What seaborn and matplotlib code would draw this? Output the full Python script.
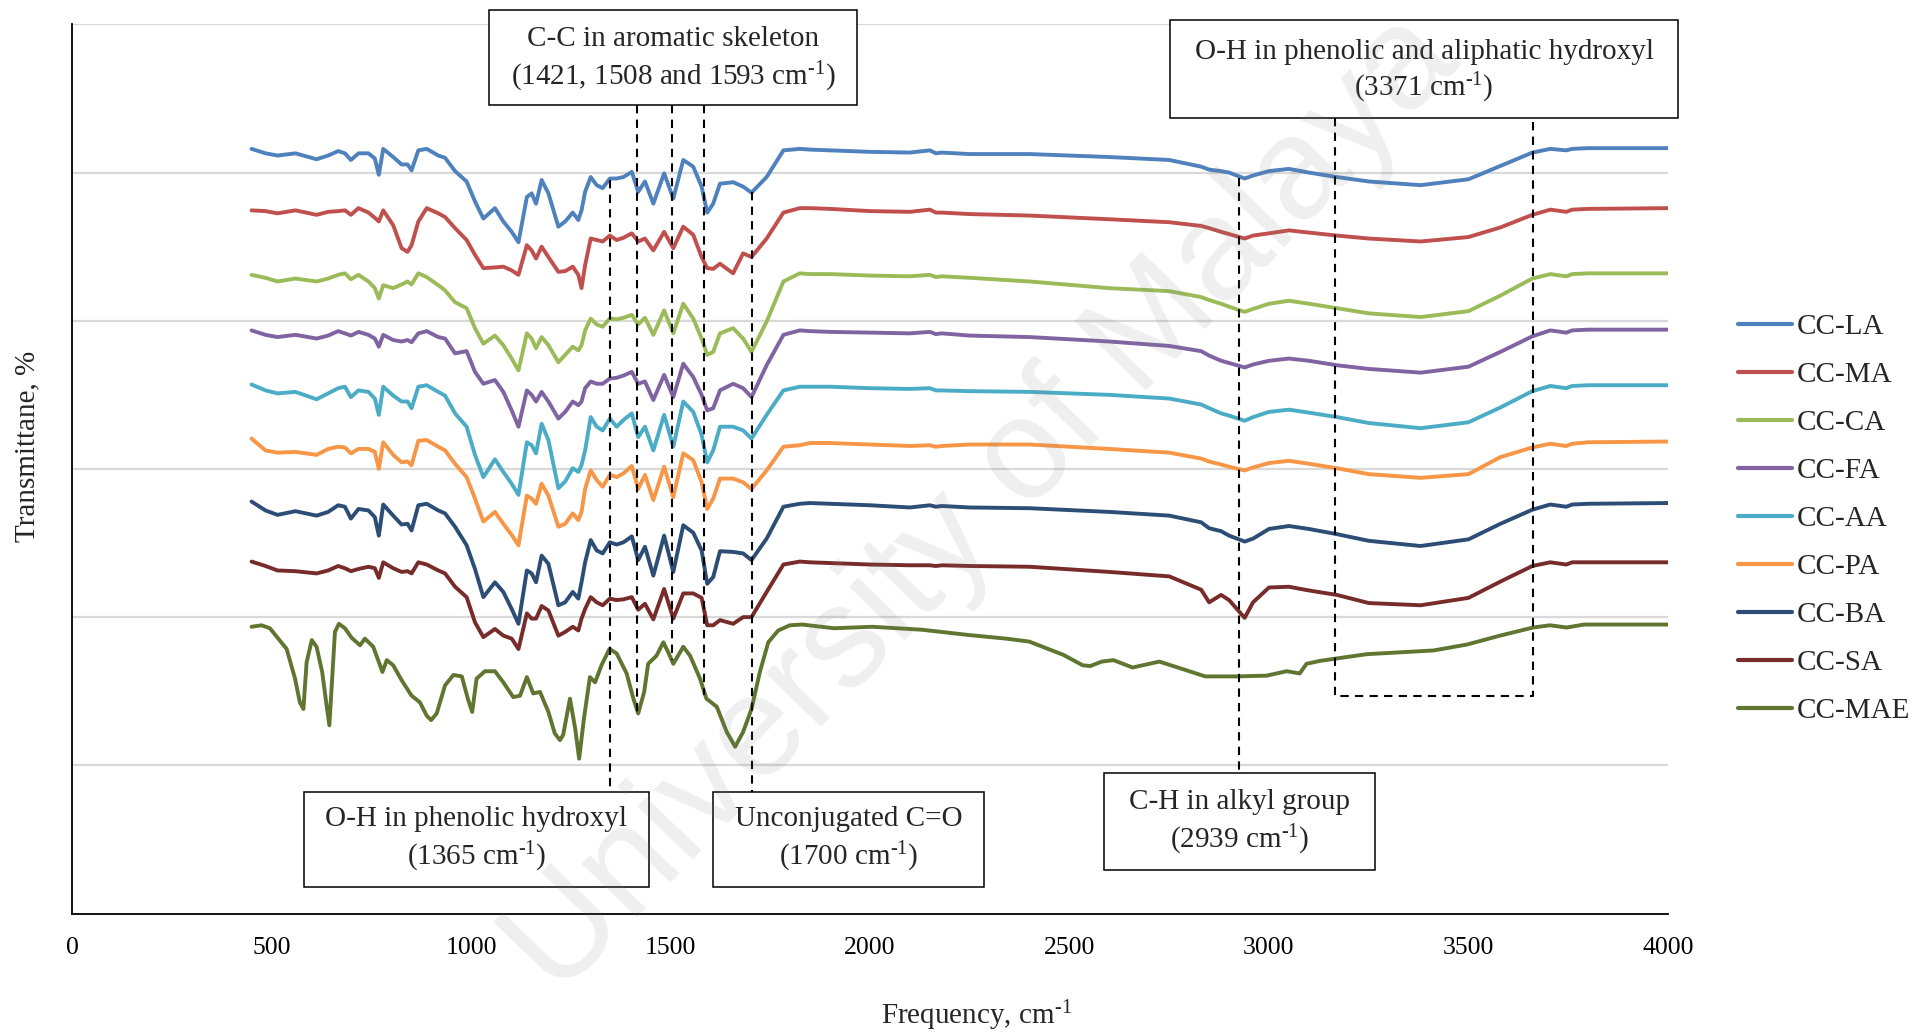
import seaborn as sns
import matplotlib.pyplot as plt
from matplotlib.patches import Rectangle

# shared wavenumber grid (cm-1) for the eight acid-modified samples
wn = [450, 485, 515, 560, 613, 642, 667, 684, 699, 718,
      743, 759, 769, 780, 805, 826, 841, 851, 868, 889,
      918, 935, 960, 989, 1010, 1031, 1060, 1081, 1102, 1119,
      1140, 1152, 1163, 1177, 1194, 1219, 1236, 1255, 1269, 1277,
      1286, 1300, 1315, 1330, 1348, 1365, 1382, 1403, 1419, 1436,
      1457, 1484, 1507, 1532, 1557, 1578, 1592, 1607, 1624, 1657,
      1682, 1703, 1741, 1783, 1824,
      1850, 1900, 2000, 2100, 2150, 2165, 2180, 2250, 2400, 2600,
      2750, 2830, 2850, 2880, 2900, 2939, 2960, 3000, 3050, 3100,
      3170, 3250, 3380, 3500, 3580, 3660, 3705, 3745, 3760, 3800,
      4000]

cc_la = [103.2, 102.6, 102.3, 102.6, 101.8, 102.3, 102.9, 102.6, 101.7, 102.6,
         102.6, 101.9, 99.7, 103.2, 102.1, 101.1, 101.1, 100.3, 103.0, 103.2,
         102.3, 102.0, 100.2, 98.8, 96.1, 93.8, 95.2, 93.4, 92.0, 90.6,
         96.7, 97.2, 95.8, 99.0, 97.2, 92.7, 93.4, 94.6, 93.6, 94.9,
         97.4, 99.4, 98.3, 97.9, 99.2, 99.2, 99.4, 100.1, 97.4, 98.8,
         95.8, 99.9, 96.5, 101.7, 100.8, 98.1, 94.6, 95.8, 98.5, 98.7,
         98.1, 97.3, 99.4, 103.0, 103.2,
         103.1, 103.0, 102.8, 102.7, 103.0, 102.6, 102.7, 102.5, 102.5, 102.1,
         101.7, 100.8, 100.4, 100.2, 100.0, 99.2, 99.6, 100.2, 100.5, 100.0,
         99.4, 98.8, 98.3, 99.1, 100.9, 102.7, 103.2, 103.0, 103.2, 103.3,
         103.3]

cc_ma = [94.9, 94.8, 94.5, 94.9, 94.3, 94.7, 94.8, 94.9, 94.3, 95.2,
         94.6, 93.9, 93.4, 94.9, 92.9, 89.8, 89.3, 90.2, 93.4, 95.2,
         94.5, 94.0, 92.5, 90.9, 88.9, 87.1, 87.2, 87.3, 86.8, 86.2,
         90.2, 89.5, 88.4, 90.0, 88.6, 86.6, 86.7, 87.3, 86.2, 84.4,
         87.5, 91.1, 90.9, 90.7, 91.5, 90.9, 91.2, 91.8, 90.7, 91.1,
         89.5, 92.0, 89.8, 92.7, 91.6, 88.6, 87.1, 87.0, 87.7, 86.4,
         89.1, 88.6, 91.1, 94.6, 95.2,
         95.2, 95.1, 94.8, 94.7, 95.0, 94.6, 94.6, 94.4, 94.2, 93.7,
         93.3, 92.8, 92.5, 92.0, 91.7, 91.1, 91.5, 91.8, 92.2, 91.9,
         91.5, 91.1, 90.7, 91.3, 92.6, 94.3, 95.0, 94.7, 95.0, 95.1,
         95.2]

cc_ca = [86.2, 85.8, 85.3, 85.7, 85.3, 85.7, 86.2, 86.4, 85.6, 86.2,
         85.3, 84.4, 83.0, 84.8, 84.4, 84.9, 85.3, 84.9, 86.4, 85.9,
         84.8, 84.1, 82.5, 81.7, 79.0, 76.9, 78.0, 76.7, 74.9, 73.3,
         78.3, 77.6, 76.3, 77.8, 76.7, 74.4, 75.4, 76.5, 76.0, 76.7,
         78.7, 80.3, 79.5, 79.2, 80.3, 80.2, 80.4, 80.8, 79.5, 80.4,
         78.1, 81.4, 78.3, 82.3, 80.3, 77.6, 75.4, 75.8, 78.3, 79.0,
         77.6, 75.8, 79.9, 85.3, 86.4,
         86.3, 86.3, 86.1, 86.0, 86.2, 85.9, 86.0, 85.8, 85.3, 84.4,
         84.0, 83.2, 82.8, 82.3, 81.9, 81.2, 81.6, 82.3, 82.7, 82.3,
         81.7, 81.0, 80.5, 81.3, 83.4, 85.7, 86.3, 86.0, 86.3, 86.4,
         86.4]

cc_fa = [78.7, 78.1, 77.8, 78.1, 77.6, 78.0, 78.6, 78.3, 78.0, 78.5,
         78.1, 77.6, 76.5, 78.1, 77.4, 77.2, 77.4, 77.1, 78.3, 78.6,
         77.8, 77.6, 75.6, 75.9, 73.1, 71.5, 72.0, 70.4, 67.9, 65.7,
         70.6, 70.0, 69.1, 70.4, 69.1, 66.8, 67.7, 69.1, 68.6, 69.1,
         70.9, 71.8, 71.5, 71.5, 72.2, 72.3, 72.6, 73.1, 71.5, 71.8,
         69.3, 72.7, 69.7, 74.2, 72.4, 70.0, 67.9, 68.2, 70.6, 71.5,
         70.9, 69.7, 74.0, 78.1, 78.7,
         78.6, 78.5, 78.4, 78.3, 78.5, 78.2, 78.3, 78.0, 77.8, 77.2,
         76.6, 75.9, 75.3, 74.6, 74.3, 73.7, 74.1, 74.6, 74.9, 74.6,
         74.0, 73.5, 73.0, 73.8, 75.8, 77.9, 78.7, 78.4, 78.7, 78.8,
         78.8]

cc_aa = [71.4, 70.6, 70.2, 70.4, 69.4, 70.2, 70.9, 71.1, 69.7, 70.6,
         70.4, 69.5, 67.3, 71.1, 69.9, 69.1, 69.1, 68.2, 71.1, 71.3,
         70.4, 69.9, 67.5, 65.7, 61.9, 58.9, 61.3, 59.6, 58.0, 56.5,
         63.6, 63.2, 62.1, 66.1, 63.9, 57.4, 58.3, 60.1, 59.6, 60.5,
         62.5, 67.0, 65.7, 65.2, 66.8, 65.7, 66.6, 67.5, 64.3, 65.7,
         62.5, 67.3, 63.0, 69.1, 67.7, 64.6, 60.9, 62.5, 65.7, 65.7,
         65.2, 64.1, 67.3, 70.6, 71.1,
         71.1, 71.1, 70.9, 70.8, 70.9, 70.6, 70.6, 70.5, 70.4, 70.0,
         69.5, 68.7, 68.2, 67.5, 67.2, 66.5, 67.0, 67.7, 68.0, 67.6,
         67.0, 66.2, 65.5, 66.3, 68.3, 70.5, 71.2, 70.9, 71.2, 71.3,
         71.3]

cc_pa = [64.1, 62.5, 62.2, 62.3, 61.9, 62.7, 63.0, 62.9, 62.1, 62.7,
         62.7, 62.3, 60.0, 63.6, 61.9, 60.9, 61.0, 60.5, 63.8, 63.9,
         63.0, 62.5, 60.7, 58.9, 56.0, 52.9, 54.2, 52.6, 51.1, 49.7,
         56.4, 56.0, 55.3, 58.0, 56.4, 52.2, 52.6, 54.0, 53.1, 54.2,
         57.3, 59.8, 58.5, 57.6, 59.2, 58.9, 59.4, 60.4, 57.3, 59.2,
         55.8, 60.3, 56.2, 62.1, 61.2, 58.2, 54.6, 56.0, 58.7, 58.7,
         58.2, 57.3, 59.8, 63.0, 63.2,
         63.5, 63.5, 63.3, 63.1, 63.2, 63.0, 63.1, 63.3, 63.3, 62.7,
         62.2, 61.4, 61.0, 60.6, 60.3, 59.8, 60.2, 60.8, 61.1, 60.7,
         60.1, 59.3, 58.8, 59.3, 61.6, 62.9, 63.4, 63.1, 63.4, 63.6,
         63.7]

cc_ba = [55.6, 54.4, 53.8, 54.3, 53.7, 54.2, 55.1, 54.9, 53.3, 54.6,
         54.4, 53.5, 51.0, 55.2, 53.7, 52.5, 52.6, 51.7, 55.1, 55.3,
         54.4, 54.0, 52.2, 49.7, 46.5, 42.7, 44.7, 43.4, 41.1, 39.1,
         46.3, 45.9, 44.7, 48.3, 47.2, 41.6, 42.0, 43.4, 42.5, 44.7,
         47.4, 50.4, 49.0, 48.6, 50.1, 49.8, 50.1, 50.9, 47.7, 49.5,
         45.6, 51.0, 46.1, 52.4, 51.4, 49.0, 44.5, 45.4, 48.9, 48.8,
         48.6, 47.7, 50.6, 54.9, 55.3,
         55.4, 55.3, 55.1, 54.8, 55.1, 54.9, 55.0, 54.8, 54.7, 54.2,
         53.7, 52.8, 52.0, 51.6, 51.0, 50.2, 50.6, 51.9, 52.3, 51.9,
         51.2, 50.3, 49.6, 50.5, 52.6, 54.5, 55.2, 54.9, 55.2, 55.3,
         55.4]

cc_sa = [47.5, 46.9, 46.3, 46.2, 45.9, 46.3, 46.9, 46.6, 46.2, 46.5,
         46.8, 46.6, 45.3, 47.4, 46.6, 46.1, 46.2, 45.9, 47.4, 47.1,
         46.3, 45.9, 44.1, 42.7, 39.3, 37.3, 38.4, 37.5, 37.1, 35.7,
         40.5, 39.8, 39.8, 41.5, 40.9, 37.5, 38.0, 38.7, 38.2, 39.8,
         41.1, 42.7, 42.0, 41.6, 42.5, 42.3, 42.4, 42.7, 41.0, 41.8,
         39.7, 43.8, 39.8, 43.2, 43.2, 42.6, 38.9, 38.9, 39.6, 39.1,
         40.0, 40.0, 43.4, 47.1, 47.5,
         47.4, 47.3, 47.1, 47.0, 47.0, 46.9, 47.0, 46.9, 46.8, 46.1,
         45.5, 43.7, 42.0, 43.0, 42.3, 39.9, 42.0, 44.0, 44.1, 43.6,
         43.0, 41.9, 41.6, 42.6, 44.8, 46.9, 47.4, 47.1, 47.4, 47.4,
         47.4]

# the unmodified extract has its own peak positions
wn_mae = [450, 475, 496, 517, 538, 559, 571, 580, 588, 601,
          613, 627, 638, 645, 652, 659, 669, 684, 701, 722,
          734, 755, 772, 778, 789, 805, 826, 851, 872, 889,
          900, 914, 935, 956, 977, 992, 1003, 1014, 1035, 1060,
          1081, 1106, 1123, 1140, 1156, 1173, 1194, 1210, 1223, 1231,
          1248, 1261, 1271, 1283, 1298, 1311, 1327, 1347, 1365, 1390,
          1407, 1419, 1434, 1444, 1465, 1482, 1494, 1507, 1532, 1549,
          1574, 1590, 1616, 1641, 1662, 1682, 1703, 1724, 1745, 1770,
          1799, 1830, 1910, 2006, 2130, 2245, 2341, 2399, 2485, 2533,
          2552, 2581, 2610, 2658, 2725, 2783, 2840, 2917, 2994, 3044,
          3077, 3094, 3128, 3245, 3412, 3496, 3579, 3662, 3704, 3746,
          3790, 4000]
cc_mae = [38.7, 38.9, 38.5, 37.1, 35.7, 31.7, 28.5, 27.6, 33.9, 36.9,
          36.0, 32.6, 28.1, 25.4, 31.7, 38.0, 39.1, 38.5, 37.2, 36.2,
          37.1, 36.0, 33.5, 32.6, 34.2, 33.5, 31.5, 29.4, 28.5, 26.7,
          26.1, 27.0, 30.8, 32.2, 32.0, 29.0, 27.2, 31.7, 32.7, 32.7,
          31.2, 29.2, 29.4, 31.9, 29.7, 29.9, 27.2, 24.3, 23.4, 24.1,
          29.0, 25.0, 20.9, 26.3, 31.9, 31.2, 33.5, 35.7, 35.1, 32.4,
          29.0, 27.0, 29.9, 33.7, 34.8, 36.6, 35.3, 33.7, 36.0, 34.8,
          31.7, 29.0, 27.9, 24.5, 22.5, 24.5, 27.6, 32.6, 36.6, 38.2,
          38.9, 39.0, 38.5, 38.7, 38.3, 37.6, 37.1, 36.7, 34.9, 33.5,
          33.4, 34.0, 34.2, 33.2, 34.0, 33.0, 32.0, 32.0, 32.1, 32.7,
          32.4, 33.7, 34.1, 35.0, 35.5, 36.3, 37.5, 38.6, 38.9, 38.6,
          39.0, 39.0]

names = ['CC-LA', 'CC-MA', 'CC-CA', 'CC-FA', 'CC-AA', 'CC-PA', 'CC-BA', 'CC-SA', 'CC-MAE']
colors = ['#4F81BD', '#C0504D', '#9BBB59', '#8064A2', '#4BACC6',
          '#F79646', '#2C4D75', '#772C2A', '#5F7530']
series = [(wn, cc_la), (wn, cc_ma), (wn, cc_ca), (wn, cc_fa), (wn, cc_aa),
          (wn, cc_pa), (wn, cc_ba), (wn, cc_sa), (wn_mae, cc_mae)]

sns.set_theme(style='white')
plt.rcParams['font.family'] = ['Liberation Serif', 'DejaVu Serif']
plt.rcParams['mathtext.default'] = 'regular'

W, H = 1915, 1036
fig = plt.figure(figsize=(W / 100, H / 100), dpi=100)
ax = fig.add_axes([72 / W, 1 - 913.5 / H, (1668 - 72) / W, (913.5 - 24.4) / H])

for (x, y), name, c in zip(series, names, colors):
    sns.lineplot(x=x, y=y, color=c, lw=2.8, label=name, ax=ax,
                 sort=False, estimator=None, zorder=3)

ax.set_xlim(0, 4000)
ax.set_ylim(0, 120)
ax.set_xticks(range(0, 4001, 500))
ax.set_yticks(range(20, 121, 20))
ax.set_yticklabels([])
ax.tick_params(axis='x', length=0, pad=17, labelsize=18.5, colors='black')
ax.tick_params(axis='y', length=0)
ax.yaxis.grid(True, color='#d9d9d9', lw=1.6, zorder=0)
ax.xaxis.grid(False)
ax.set_axisbelow(True)
for s in ['top', 'right']:
    ax.spines[s].set_visible(False)
for s in ['left', 'bottom']:
    ax.spines[s].set_color('black')
    ax.spines[s].set_linewidth(1.3)
ax.set_xlabel('')
ax.set_ylabel('')

# dashed guide lines
dash = dict(color='black', lw=1.5, linestyle=(0, (4, 3)), zorder=5, clip_on=False)
ax.plot([1348, 1348], [99.0, 16.4], **dash)
ax.plot([1417, 1417], [109.1, 27.2], **dash)
ax.plot([1504, 1504], [109.1, 34.2], **dash)
ax.plot([1585, 1585], [109.1, 29.5], **dash)
ax.plot([1705, 1705], [97.4, 16.4], **dash)
ax.plot([2926, 2926], [99.3, 18.9], **dash)
ax.plot([3166, 3166, 3662, 3662], [107.4, 29.3, 29.3, 107.4], **dash)

# annotation boxes: (x0, x1, y0, y1, line1, line2, line1 y, line2 y)
sup = r'$^{\mathregular{‐1}}$'
boxes = [
    (1044, 1968, 109.1, 122.0, 'C-C in aromatic skeleton',
     '(1421, 1508 and 1593 cm' + sup + ')', 118.0, 112.9),
    (2752, 4025, 107.4, 120.6, 'O-H in phenolic and aliphatic hydroxyl',
     '(3371 cm' + sup + ')', 116.3, 111.4),
    (581, 1445, 3.6, 16.4, 'O-H in phenolic hydroxyl',
     '(1365 cm' + sup + ')', 12.7, 7.6),
    (1606, 2286, 3.6, 16.4, 'Unconjugated C=O',
     '(1700 cm' + sup + ')', 12.7, 7.6),
    (2586, 3266, 5.9, 18.9, 'C-H in alkyl group',
     '(2939 cm' + sup + ')', 15.0, 9.9),
]
for x0, x1, y0, y1, t1, t2, ty1, ty2 in boxes:
    ax.add_patch(Rectangle((x0, y0), x1 - x0, y1 - y0, facecolor='white',
                           edgecolor='black', lw=1.1, zorder=6, clip_on=False))
    xc = (x0 + x1) / 2
    ax.text(xc, ty1, t1, ha='center', va='center', fontsize=21, zorder=7, clip_on=False)
    ax.text(xc, ty2, t2, ha='center', va='center', fontsize=21, zorder=7, clip_on=False)

# watermark laid over the whole chart, very faint
ax.text(983 / W, 1 - 505 / H, 'University of Malaya', transform=fig.transFigure,
        family='Liberation Sans', fontsize=104, color='#808080', alpha=0.13,
        rotation=46, ha='center', va='center', zorder=8)

ax.legend(loc='upper left', bbox_to_anchor=(1738 / W, 1 - 314 / H),
          bbox_transform=fig.transFigure, frameon=False, fontsize=21,
          handlelength=1.85, handletextpad=0.15, labelspacing=0.74,
          borderpad=0, borderaxespad=0)
for line in ax.get_legend().get_lines():
    line.set_linewidth(3.0)

fig.text(27 / W, 1 - 446 / H, 'Transmittane, %', rotation=90, ha='center',
         va='center', fontsize=21)
fig.text(977 / W, 1 - 1016 / H, 'Frequency, cm' + sup, ha='center',
         va='center', fontsize=21)

fig.savefig('out.png', dpi=100)
